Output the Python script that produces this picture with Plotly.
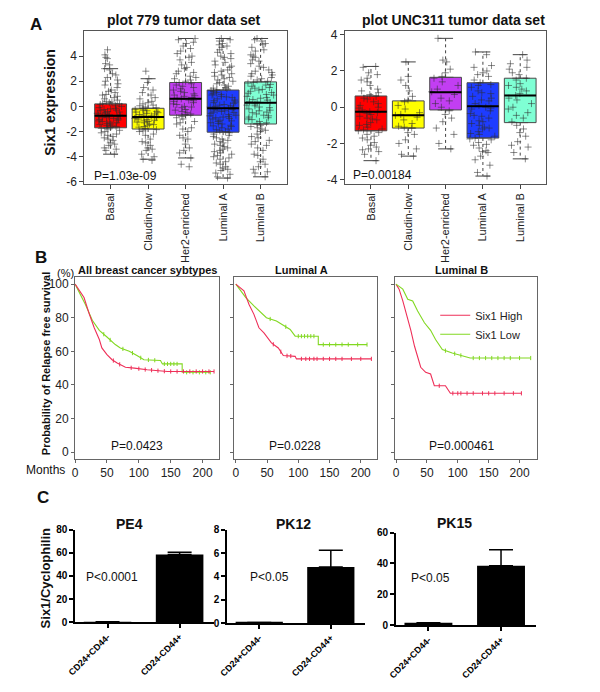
import plotly.graph_objects as go
import numpy as np

W, H = 600, 692
FONT = "Liberation Sans, Arial, Helvetica, sans-serif"

# ---------------- Panel A data ----------------
subtypes = ["Basal", "Claudin-low", "Her2-enriched", "Luminal A", "Luminal B"]
box_colors = ["#FF0000", "#FFFF00", "#C23EF2", "#1E3CFF", "#7FFFD4"]

# dataset 779: box statistics
q1_779 = [-1.7, -1.8, -0.7, -2.05, -1.4]
med_779 = [-0.75, -0.85, 0.6, -0.15, 0.3]
q3_779 = [0.2, -0.15, 1.9, 1.3, 1.95]
lo_779 = [-3.8, -4.2, -4.1, -5.7, -5.6]
hi_779 = [3.0, 2.2, 5.4, 5.4, 5.4]

# dataset 779: sample points (read approximately)
p779_basal = [4.5, 4.1, 3.8, 3.3, 3.0, 2.6, 2.5, 2.1, 1.8, 1.7, 1.3, 1.1, 0.9, 0.8, 0.7, 0.5, 0.4, 0.3,
              0.2, 0.15, 0.05, -0.1, -0.2, -0.25, -0.35, -0.4, -0.5, -0.55, -0.65, -0.7, -0.75, -0.8,
              -0.85, -0.95, -1.0, -1.1, -1.2, -1.25, -1.35, -1.45, -1.5, -1.6, -1.7, -1.75, -1.9, -2.0,
              -2.2, -2.3, -2.5, -2.7, -2.9, -3.1, -3.3, -3.5, -3.8,
              3.9, 3.4, 2.9, 2.3, 2.0, 1.5, 1.2, 0.95, 0.6, 0.35, 0.25, 0.0, -0.15, -0.3, -0.45, -0.6,
              -0.68, -0.78, -0.9, -1.05, -1.15, -1.3, -1.4, -1.55, -1.65, -1.8, -2.1, -2.4, -2.6,
              -3.0, -3.4]
p779_claudin = [2.8, 2.2, 1.9, 1.5, 1.1, 0.9, 0.6, 0.4, 0.2, 0.05, -0.1, -0.2, -0.3, -0.4, -0.45, -0.55,
                -0.6, -0.7, -0.75, -0.85, -0.9, -1.0, -1.05, -1.15, -1.2, -1.3, -1.4, -1.5, -1.6, -1.75,
                -1.85, -2.0, -2.3, -2.6, -2.8, -3.1, -3.3, -3.5, -3.8, -4.2, -4.3,
                1.3, 0.7, 0.3, 0.1, -0.05, -0.25, -0.35, -0.5, -0.65, -0.8, -0.95, -1.1, -1.25,
                -1.45, -1.65, -1.95, -2.2, -2.9, -3.4, -4.0]
p779_her2 = [5.4, 5.3, 5.0, 4.8, 4.4, 4.0, 3.7, 3.5, 3.3, 3.0, 2.8, 2.6, 2.4, 2.2, 2.0, 1.9, 1.8, 1.6,
             1.5, 1.3, 1.2, 1.0, 0.9, 0.8, 0.7, 0.6, 0.5, 0.4, 0.3, 0.15, 0.0, -0.1, -0.25, -0.4, -0.5,
             -0.65, -0.8, -1.0, -1.2, -1.4, -1.7, -2.0, -2.3, -2.6, -3.0, -3.3, -3.7, -4.1, -4.6, -4.8,
             5.1, 4.6, 4.2, 3.9, 3.1, 2.7, 2.3, 2.1, 1.7, 1.4, 1.1, 0.85, 0.65, 0.45, 0.2, -0.05,
             -0.3, -0.6, -0.9, -1.3, -1.8, -2.5, -3.5]
p779_luma = [5.4, 5.2, 4.9, 4.7, 4.5, 4.2, 4.0, 3.8, 3.6, 3.3, 3.1, 2.9, 2.7, 2.5, 2.3, 2.2, 2.0, 1.8,
             1.7, 1.5, 1.4, 1.3, 1.2, 1.1, 0.95, 0.8, 0.7, 0.6, 0.45, 0.35, 0.25, 0.1, 0.0, -0.1, -0.15,
             -0.25, -0.35, -0.45, -0.55, -0.7, -0.8, -0.9, -1.0, -1.15, -1.3, -1.4, -1.55, -1.7, -1.85,
             -2.0, -2.1, -2.3, -2.5, -2.7, -2.9, -3.0, -3.2, -3.4, -3.6, -3.8, -4.0, -4.2, -4.4, -4.6,
             -4.9, -5.1, -5.3, -5.6, -5.7,
             5.3, 5.0, 4.8, 4.3, 3.9, 3.5, 3.2, 2.8, 2.6, 2.4, 2.1, 1.9, 1.6, 1.45, 1.25, 1.0, 0.9,
             0.75, 0.5, 0.3, 0.15, 0.05, -0.05, -0.2, -0.3, -0.4, -0.5, -0.65, -0.75, -0.85, -0.95,
             -1.1, -1.2, -1.35, -1.5, -1.6, -1.8, -1.95, -2.2, -2.4, -2.6, -2.8, -3.1, -3.3, -3.5,
             -3.7, -3.9, -4.1, -4.5, -4.8, -5.0, -5.4]
p779_lumb = [5.4, 5.2, 5.0, 4.7, 4.4, 4.1, 3.9, 3.7, 3.4, 3.1, 2.9, 2.7, 2.5, 2.3, 2.1, 2.0, 1.85, 1.7,
             1.6, 1.45, 1.3, 1.2, 1.05, 0.9, 0.8, 0.65, 0.5, 0.4, 0.3, 0.2, 0.05, -0.1, -0.2, -0.35,
             -0.5, -0.6, -0.75, -0.9, -1.05, -1.2, -1.35, -1.5, -1.7, -1.9, -2.2, -2.5, -2.8, -3.1,
             -3.5, -3.8, -4.2, -4.6, -5.0, -5.3, -5.6,
             5.3, 4.9, 4.5, 4.0, 3.6, 3.2, 2.8, 2.6, 2.4, 2.2, 1.9, 1.75, 1.5, 1.35, 1.1, 0.95, 0.7,
             0.55, 0.35, 0.1, -0.05, -0.3, -0.45, -0.7, -0.85, -1.0, -1.3, -1.6, -1.8, -2.0, -2.4,
             -2.7, -3.0, -3.3, -3.9, -4.4, -4.8, -5.2]

# dataset UNC311: box statistics
q1_unc = [-1.3, -1.15, -0.15, -1.7, -0.85]
med_unc = [-0.25, -0.45, 0.82, 0.05, 0.65]
q3_unc = [0.62, 0.35, 1.65, 1.35, 1.6]
lo_unc = [-2.95, -2.7, -2.3, -3.8, -2.85]
hi_unc = [2.25, 2.5, 3.8, 3.05, 2.9]

p_unc_basal = [2.25, 2.2, 1.9, 1.8, 1.5, 1.4, 1.2, 1.0, 0.8, 0.7, 0.6, 0.45, 0.3, 0.2, 0.1, -0.05, -0.15,
               -0.25, -0.3, -0.4, -0.5, -0.6, -0.7, -0.85, -1.0, -1.1, -1.2, -1.3, -1.4, -1.5, -1.6,
               -1.8, -1.95, -2.1, -2.2, -2.3, -2.45, -2.6, -2.95,
               1.6, 0.9, 0.5, 0.0, -0.35, -0.65, -0.95, -1.25, -1.7, -2.35]
p_unc_claudin = [2.5, 1.7, 1.5, 1.2, 0.9, 0.6, 0.4, 0.3, 0.1, -0.1, -0.3, -0.4, -0.45, -0.55, -0.7,
                 -0.9, -1.05, -1.1, -1.15, -1.4, -1.5, -1.8, -2.0, -2.3, -2.6, -2.7]
p_unc_her2 = [3.8, 2.6, 2.5, 2.1, 1.9, 1.7, 1.6, 1.4, 1.2, 1.0, 0.85, 0.7, 0.5, 0.35, 0.2, 0.0, -0.2,
              -0.4, -0.6, -0.8, -1.15, -1.5, -2.0, -2.3]
p_unc_luma = [3.05, 2.9, 2.3, 2.2, 2.0, 1.9, 1.7, 1.5, 1.35, 1.2, 1.1, 0.9, 0.75, 0.6, 0.5, 0.35, 0.2,
              0.1, 0.0, -0.1, -0.2, -0.35, -0.5, -0.6, -0.75, -0.9, -1.0, -1.1, -1.2, -1.35, -1.5,
              -1.6, -1.7, -1.8, -1.95, -2.1, -2.25, -2.4, -2.5, -2.7, -2.9, -3.2, -3.6, -3.8,
              1.8, 1.25, 0.8, 0.4, -0.05, -0.45, -0.8, -1.15, -1.45, -1.75, -2.05, -2.45]
p_unc_lumb = [2.9, 2.6, 2.4, 2.2, 2.1, 1.9, 1.8, 1.6, 1.5, 1.3, 1.2, 1.1, 1.0, 0.9, 0.75, 0.65, 0.5,
              0.4, 0.2, 0.0, -0.1, -0.3, -0.45, -0.6, -0.8, -1.0, -1.2, -1.4, -1.6, -1.9, -2.1, -2.2,
              -2.5, -2.85]

a_yticks_779 = [-6, -4, -2, 0, 2, 4]
a_yticks_unc = [-4, -2, 0, 2, 4]

# ---------------- Panel B data (Kaplan-Meier) ----------------
km_months_ticks = [0, 50, 100, 150, 200]
km_pct_ticks = [0, 20, 40, 60, 80, 100]

all_high_t = [0, 14, 22, 30, 38, 42, 50, 58, 66, 79, 93, 113, 145, 218]
all_high_s = [100, 92, 82.5, 74, 67, 62, 58, 55, 53, 50.5, 50, 49, 48, 48]
all_high_c = [60, 70, 88, 100, 110, 120, 130, 140, 150, 160, 170, 180, 190, 200, 210, 218]
all_low_t = [0, 16, 27, 38, 50, 63, 71, 85, 97, 108, 134, 137, 168, 168, 212]
all_low_s = [100, 88, 78.5, 72.5, 68.5, 64, 62, 60, 57.5, 55, 54.5, 52.5, 52.5, 47.5, 47.5]
all_low_c = [45, 55, 75, 90, 103, 115, 125, 140, 145, 150, 155, 160, 175, 185, 195, 205, 212]

luma_high_t = [0, 13, 21, 29, 37, 45, 57, 68, 76, 95, 97, 217]
luma_high_s = [100, 96, 88, 82, 74, 71, 65, 62, 57.5, 57, 55.5, 55.5]
luma_high_c = [60, 72, 82, 88, 105, 112, 118, 125, 130, 140, 150, 160, 170, 185, 200, 217]
luma_low_t = [0, 16, 29, 40, 49, 65, 76, 87, 95, 132, 132, 210]
luma_low_s = [100, 92, 87, 83, 80, 78, 75.5, 73, 69, 69, 64, 64]
luma_low_c = [55, 80, 100, 105, 110, 115, 120, 125, 140, 150, 160, 170, 180, 195, 210]

lumb_high_t = [0, 5, 11, 19, 24, 30, 35, 40, 48, 56, 62, 80, 88, 203]
lumb_high_s = [100, 97, 90, 80, 72.5, 63, 57, 50.5, 47.5, 46.5, 39.5, 39.5, 35, 35]
lumb_high_c = [70, 92, 100, 105, 115, 125, 140, 150, 160, 175, 190, 203]
lumb_low_t = [0, 11, 19, 27, 35, 46, 56, 64, 75, 91, 120, 218]
lumb_low_s = [100, 97, 91, 90, 84, 77, 72.5, 67, 61, 59, 56, 56]
lumb_low_c = [80, 95, 105, 125, 135, 145, 155, 165, 175, 185, 200, 218]

# ---------------- Panel C data ----------------
fractions = ["CD24+CD44-", "CD24-CD44+"]
pe4_vals = [0.3, 58.5]
pe4_err = [0.0, 2.0]
pk12_vals = [0.05, 4.8]
pk12_err = [0.0, 1.45]
pk15_vals = [1.5, 38.5]
pk15_err = [0.0, 10.5]

# ================= build figure =================
RED = "#EE2F58"
GREEN = "#82D822"
PT = "rgba(45,45,45,0.55)"

fig = go.Figure()


def px_x(a, b):
    return [a / W, b / W]


def px_y(top, bottom):
    return [1 - bottom / H, 1 - top / H]


def add_box_panel(xa, ya, q1, med, q3, lo, hi, pts):
    pos = [1, 2, 3, 4, 5]
    for i in range(5):
        fig.add_trace(go.Box(x=[pos[i]], q1=[q1[i]], median=[med[i]], q3=[q3[i]],
                             lowerfence=[q1[i]], upperfence=[q3[i]], width=0.85,
                             fillcolor=box_colors[i], line=dict(color="#4a4a4a", width=1),
                             boxpoints=False, xaxis=xa, yaxis=ya, showlegend=False,
                             hoverinfo="skip"))
    wx, wy, cx, cy = [], [], [], []
    for i in range(5):
        p = pos[i]
        wx += [p, p, None, p, p, None]
        wy += [q3[i], hi[i], None, q1[i], lo[i], None]
        cx += [p - 0.2, p + 0.2, None, p - 0.2, p + 0.2, None]
        cy += [hi[i], hi[i], None, lo[i], lo[i], None]
    fig.add_trace(go.Scatter(x=wx, y=wy, mode="lines", line=dict(color="#444", width=1, dash="dot"),
                             xaxis=xa, yaxis=ya, showlegend=False, hoverinfo="skip"))
    fig.add_trace(go.Scatter(x=cx, y=cy, mode="lines", line=dict(color="#444", width=1),
                             xaxis=xa, yaxis=ya, showlegend=False, hoverinfo="skip"))
    for i in range(5):
        fig.add_trace(go.Box(x=[pos[i]] * len(pts[i]), y=pts[i], boxpoints="all", jitter=0.9,
                             pointpos=0, width=0.85, fillcolor="rgba(0,0,0,0)",
                             line=dict(color="rgba(0,0,0,0)", width=0),
                             marker=dict(symbol="cross-thin", size=5, color=PT,
                                         line=dict(width=1, color=PT)),
                             xaxis=xa, yaxis=ya, showlegend=False, hoverinfo="skip"))
    mx, my = [], []
    for i in range(5):
        mx += [pos[i] - 0.425, pos[i] + 0.425, None]
        my += [med[i], med[i], None]
    fig.add_trace(go.Scatter(x=mx, y=my, mode="lines", line=dict(color="black", width=2),
                             xaxis=xa, yaxis=ya, showlegend=False, hoverinfo="skip"))


add_box_panel("x", "y", q1_779, med_779, q3_779, lo_779, hi_779,
              [p779_basal, p779_claudin, p779_her2, p779_luma, p779_lumb])
add_box_panel("x2", "y2", q1_unc, med_unc, q3_unc, lo_unc, hi_unc,
              [p_unc_basal, p_unc_claudin, p_unc_her2, p_unc_luma, p_unc_lumb])


def add_km(xa, ya, t, s, cens, color, name=None):
    fig.add_trace(go.Scatter(x=t, y=s, mode="lines", line=dict(color=color, width=1.1),
                             name=name if name else "", showlegend=name is not None,
                             xaxis=xa, yaxis=ya, hoverinfo="skip"))
    cy = np.interp(cens, t, s)
    fig.add_trace(go.Scatter(x=cens, y=cy, mode="markers",
                             marker=dict(symbol="line-ns", size=3, color=color,
                                         line=dict(width=1, color=color)),
                             showlegend=False, xaxis=xa, yaxis=ya, hoverinfo="skip"))


add_km("x3", "y3", all_low_t, all_low_s, all_low_c, GREEN)
add_km("x3", "y3", all_high_t, all_high_s, all_high_c, RED)
add_km("x4", "y4", luma_low_t, luma_low_s, luma_low_c, GREEN)
add_km("x4", "y4", luma_high_t, luma_high_s, luma_high_c, RED)
add_km("x5", "y5", lumb_high_t, lumb_high_s, lumb_high_c, RED, "Six1 High")
add_km("x5", "y5", lumb_low_t, lumb_low_s, lumb_low_c, GREEN, "Six1 Low")


def add_bars(xa, ya, vals, errs):
    fig.add_trace(go.Bar(x=[0, 1], y=vals, width=0.66, marker=dict(color="black", line=dict(width=0)),
                         error_y=dict(type="data", array=errs, arrayminus=[0, 0], symmetric=False,
                                      color="black", thickness=1.5, width=12),
                         xaxis=xa, yaxis=ya, showlegend=False, hoverinfo="skip"))


add_bars("x6", "y6", pe4_vals, pe4_err)
add_bars("x7", "y7", pk12_vals, pk12_err)
add_bars("x8", "y8", pk15_vals, pk15_err)

# ================= axes =================
layout_axes = {}


def a_axes(n, xd, yd, yrange, yticks):
    sfx = "" if n == 1 else str(n)
    layout_axes["xaxis" + sfx] = dict(domain=xd, range=[0.3, 5.7], tickvals=[1, 2, 3, 4, 5],
                                      ticktext=subtypes, tickangle=-90, ticks="outside", ticklen=4,
                                      tickcolor="#444", showline=True, mirror=True, linecolor="#555",
                                      linewidth=1, showgrid=False, zeroline=False,
                                      tickfont=dict(size=11, color="#222"), anchor="y" + sfx)
    layout_axes["yaxis" + sfx] = dict(domain=yd, range=yrange, tickvals=yticks,
                                      ticktext=[str(v) for v in yticks], ticks="outside", ticklen=4,
                                      tickcolor="#444", showline=True, mirror=True, linecolor="#555",
                                      linewidth=1, showgrid=False, zeroline=False,
                                      tickfont=dict(size=12, color="#222"), anchor="x" + sfx)


a_axes(1, px_x(77.4, 282.6), px_y(25, 181), [-6.16, 6.03], a_yticks_779)
a_axes(2, px_x(341.4, 545.6), px_y(25, 181), [-4.23, 4.23], a_yticks_unc)


def b_axes(n, xd, xr, labels_y):
    sfx = str(n)
    layout_axes["xaxis" + sfx] = dict(domain=xd, range=xr, tickvals=km_months_ticks,
                                      ticks="outside", ticklen=3, tickcolor="#666", showline=True,
                                      mirror=True, linecolor="#666", linewidth=1, showgrid=False,
                                      zeroline=False, tickfont=dict(size=12, color="#222"),
                                      anchor="y" + sfx)
    layout_axes["yaxis" + sfx] = dict(domain=px_y(276, 461), range=[-4.1, 104.1],
                                      tickvals=km_pct_ticks, showticklabels=labels_y,
                                      ticks="outside", ticklen=3, tickcolor="#666", showline=True,
                                      mirror=True, linecolor="#666", linewidth=1, showgrid=False,
                                      zeroline=False, tickfont=dict(size=12, color="#222"),
                                      anchor="x" + sfx)


b_axes(3, px_x(68, 214), [0, 226], True)
b_axes(4, px_x(229, 374), [-3, 226], False)
b_axes(5, px_x(392, 536), [-2, 228], False)


def c_axes(n, xd, yd, ymax, yticks):
    sfx = str(n)
    layout_axes["xaxis" + sfx] = dict(domain=xd, range=[-0.45, 1.48], tickvals=[0, 1],
                                      ticktext=["<b>%s</b>" % f for f in fractions], tickangle=-45,
                                      ticks="outside", ticklen=4, tickwidth=1.5, tickcolor="black",
                                      showline=True, linecolor="black", linewidth=2, showgrid=False,
                                      zeroline=False, tickfont=dict(size=9, color="black"),
                                      anchor="y" + sfx)
    layout_axes["yaxis" + sfx] = dict(domain=yd, range=[0, ymax], tickvals=yticks,
                                      ticktext=["<b>%d</b>" % v for v in yticks],
                                      ticks="outside", ticklen=4, tickwidth=1.5, tickcolor="black",
                                      showline=True, linecolor="black", linewidth=1.5,
                                      showgrid=False, zeroline=False,
                                      tickfont=dict(size=10, color="black"), anchor="x" + sfx)


c_axes(6, px_x(68, 209), px_y(533, 627), 80, [0, 20, 40, 60, 80])
c_axes(7, px_x(222, 362), px_y(533, 628), 8, [0, 2, 4, 6, 8])
c_axes(8, px_x(393, 535), px_y(536, 630), 60, [0, 20, 40, 60])

# ================= annotations =================
annots = []


def ann(text, x, y, size, bold=False, xanchor="center", yanchor="middle", angle=0, color="#111"):
    annots.append(dict(text="<b>%s</b>" % text if bold else text, x=x / W, y=1 - y / H,
                       xref="paper", yref="paper", xanchor=xanchor, yanchor=yanchor,
                       textangle=angle, showarrow=False,
                       font=dict(size=size, family=FONT, color=color)))


ann("A", 28, 19, 17, True)
ann("plot 779 tumor data set", 178, 14, 14, True)
ann("plot UNC311 tumor data set", 452, 14, 14, True)
ann("Six1 expression", 43, 98, 14, True, angle=-90)
ann("P=1.03e-09", 85, 173, 12, xanchor="left")
ann("P=0.00184", 348, 172, 12, xanchor="left")

ann("B", 33, 256, 17, True)
ann("(%)", 58, 272, 11)
ann("All breast cancer sybtypes", 141, 269, 11, True)
ann("Luminal A", 297, 269, 11, True)
ann("Luminal B", 460, 269, 11, True)
ann("Probability of Relapse free survival", 38, 364, 11, True, angle=-90)
ann("Months", 38, 472, 12)
ann("P=0.0423", 102, 448, 12, xanchor="left")
ann("P=0.0228", 262, 448, 12, xanchor="left")
ann("P=0.000461", 425, 448, 12, xanchor="left")

ann("C", 35, 500, 17, True)
ann("PE4", 123, 527, 14, True)
ann("PK12", 289, 527, 14, True)
ann("PK15", 453, 526, 14, True)
ann("Six1/Cyclophilin", 38, 582, 13, True, angle=-90)
ann("P&lt;0.0001", 105, 581, 12)
ann("P&lt;0.05", 265, 581, 12)
ann("P&lt;0.05", 428, 582, 12)

fig.update_layout(
    width=W, height=H, margin=dict(l=0, r=0, t=0, b=0),
    paper_bgcolor="white", plot_bgcolor="white",
    font=dict(family=FONT, color="#222"),
    boxmode="overlay", barmode="overlay",
    annotations=annots,
    showlegend=True,
    legend=dict(x=433 / W, y=1 - 300 / H, xanchor="left", yanchor="top",
                bgcolor="rgba(0,0,0,0)", font=dict(size=11, color="#222"),
                itemwidth=30, tracegroupgap=0),
    **layout_axes,
)

fig.write_html("out.html", config={"displayModeBar": False},
               post_script="document.body.style.margin='0px';")
